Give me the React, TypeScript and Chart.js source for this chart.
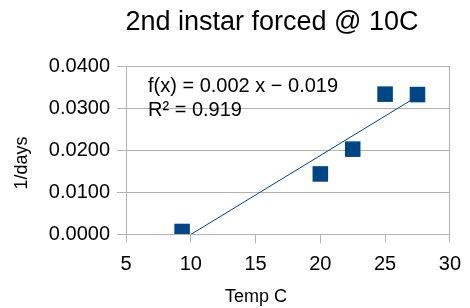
import React, { useEffect, useRef } from "react";
import { Chart, registerables } from "chart.js";

Chart.register(...registerables);

const TITLE = "2nd instar forced @ 10C";
const X_TITLE = "Temp C";
const Y_TITLE = "1/days";
const EQUATION = "f(x) = 0.002 x \u2212 0.019";
const R_SQUARED = "R\u00B2 = 0.919";

const temps = [9.33, 20, 22.5, 25, 27.5];
const rates = [0.0006, 0.0143, 0.0202, 0.0333, 0.0332];

const X_MIN = 5;
const X_MAX = 30;
const X_STEP = 5;
const Y_MIN = 0;
const Y_MAX = 0.04;
const Y_STEP = 0.01;

const FONT = "'Liberation Sans', Arial, sans-serif";
const BLUE = "#004586";
const GRID = "#b3b3b3";

function regression(xs: number[], ys: number[]) {
  const n = xs.length;
  const mx = xs.reduce((a, b) => a + b, 0) / n;
  const my = ys.reduce((a, b) => a + b, 0) / n;
  let sxy = 0;
  let sxx = 0;
  for (let i = 0; i < n; i++) {
    sxy += (xs[i] - mx) * (ys[i] - my);
    sxx += (xs[i] - mx) * (xs[i] - mx);
  }
  const slope = sxy / sxx;
  return { slope, intercept: my - slope * mx };
}

const textPlugin = {
  id: "texts",
  afterDraw(chart: any) {
    const ctx = chart.ctx;
    const ca = chart.chartArea;
    ctx.save();
    ctx.fillStyle = "#000";
    ctx.textBaseline = "middle";
    ctx.textAlign = "center";
    ctx.font = `27px ${FONT}`;
    ctx.fillText(TITLE, 272, 23);
    ctx.font = `18px ${FONT}`;
    ctx.fillText(X_TITLE, 256, 297);
    ctx.save();
    ctx.translate(22, 163);
    ctx.rotate(-Math.PI / 2);
    ctx.fillText(Y_TITLE, 0, 0);
    ctx.restore();
    ctx.textAlign = "left";
    ctx.font = `20px ${FONT}`;
    ctx.fillText(EQUATION, ca.left + 22, 86);
    ctx.fillText(R_SQUARED, ca.left + 22, 110);
    ctx.restore();
  },
};

export default function App() {
  const ref = useRef<HTMLCanvasElement>(null);
  useEffect(() => {
    document.body.style.margin = "0";
    const { slope, intercept } = regression(temps, rates);
    const xLo = Math.min(...temps);
    const xHi = Math.max(...temps);
    const chart = new Chart(ref.current!, {
      type: "scatter",
      data: {
        datasets: [
          {
            data: temps.map((t, i) => ({ x: t, y: rates[i] })),
            backgroundColor: BLUE,
            borderColor: BLUE,
            borderWidth: 0,
            pointStyle: "rect",
            pointRadius: 11,
            pointHoverRadius: 11,
            order: 1,
          },
          {
            data: [
              { x: xLo, y: slope * xLo + intercept },
              { x: xHi, y: slope * xHi + intercept },
            ],
            showLine: true,
            borderColor: BLUE,
            borderWidth: 1,
            pointRadius: 0,
            clip: 0,
            order: 2,
          } as any,
        ],
      },
      options: {
        responsive: false,
        animation: false,
        layout: { padding: { left: 0, right: 14, top: 66, bottom: 0 } },
        plugins: {
          legend: { display: false },
          title: { display: false },
          tooltip: { enabled: false },
        },
        scales: {
          x: {
            type: "linear",
            min: X_MIN,
            max: X_MAX,
            ticks: {
              stepSize: X_STEP,
              font: { family: FONT, size: 20 },
              color: "#000",
              padding: 9,
              maxRotation: 0,
            },
            grid: {
              color: (c: any) => (c.tick && c.tick.value === X_MAX ? GRID : "rgba(0,0,0,0)"),
              tickColor: GRID,
              tickLength: 9,
              drawTicks: true,
            },
            border: { display: true, color: GRID },
            afterFit: (s: any) => {
              s.height = 74;
            },
          },
          y: {
            min: Y_MIN,
            max: Y_MAX,
            ticks: {
              stepSize: Y_STEP,
              font: { family: FONT, size: 20 },
              color: "#000",
              padding: 7,
              callback: (v: any) => Number(v).toFixed(4),
            },
            grid: { color: GRID, tickColor: GRID, tickLength: 9 },
            border: { display: true, color: GRID },
            afterFit: (s: any) => {
              s.width = 126;
            },
          },
        },
      },
      plugins: [textPlugin],
    });
    return () => chart.destroy();
  }, []);
  return (
    <div style={{ width: 470, height: 308 }}>
      <canvas ref={ref} width={470} height={308} />
    </div>
  );
}
